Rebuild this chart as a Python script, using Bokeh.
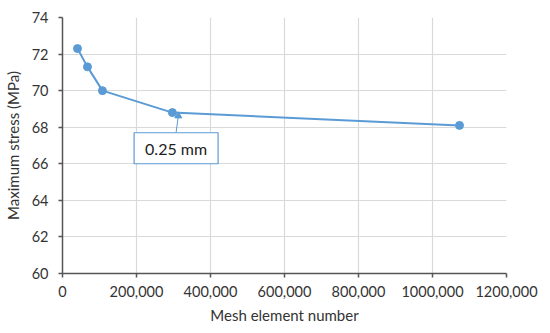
from bokeh.plotting import figure
from bokeh.models import FixedTicker, Range1d
from bokeh.core.properties import value
from bokeh.embed import file_html
from bokeh.resources import INLINE

# Data
mesh_elements = [40500, 67500, 108000, 297000, 1073000]
max_stress = [72.3, 71.3, 70.0, 68.8, 68.1]

x_ticks = [0, 200000, 400000, 600000, 800000, 1000000, 1200000]
x_tick_labels = ["0", "200,000", "400,000", "600,000", "800,000", "1000,000", "1200,000"]
y_ticks = [60, 62, 64, 66, 68, 70, 72, 74]

# Callout annotation ("0.25 mm")
callout_text = ["0.25 mm"]
callout_arrow_x = [313000]
callout_arrow_y = [68.62]
callout_box_x = [307000]
callout_box_y = [66.85]
callout_box_top_y = [67.7]

BLUE = "#5B9BD5"
FONT = "Lato"

p = figure(width=543, height=326, output_backend="svg", toolbar_location=None,
           x_range=Range1d(0, 1200000), y_range=Range1d(60, 74),
           min_border_left=54, min_border_right=37, min_border_top=17, min_border_bottom=52)
p.outline_line_color = None
p.background_fill_color = "white"

for ax in (p.xaxis[0], p.yaxis[0]):
    ax.axis_line_color = "#555555"
    ax.axis_line_width = 1.5
    ax.major_tick_line_color = "#555555"
    ax.major_tick_line_width = 1.5
    ax.major_tick_out = 4
    ax.major_tick_in = 0
    ax.minor_tick_line_color = None
    ax.major_label_text_font = FONT
    ax.major_label_text_font_size = "14.5px"
    ax.major_label_text_color = "#333333"
    ax.axis_label_text_font = FONT
    ax.axis_label_text_font_size = "15px"
    ax.axis_label_text_font_style = "normal"
    ax.axis_label_text_color = "#333333"

p.xaxis.ticker = FixedTicker(ticks=x_ticks)
p.xaxis.major_label_overrides = {t: l for t, l in zip(x_ticks, x_tick_labels)}
p.xaxis.axis_label = "Mesh element number"
p.xaxis.major_label_standoff = 8
p.xaxis.axis_label_standoff = 6

p.yaxis.ticker = FixedTicker(ticks=y_ticks)
p.yaxis.axis_label = "Maximum stress (MPa)"
p.yaxis.major_label_standoff = 10
p.yaxis.axis_label_standoff = 7

p.xgrid.grid_line_color = "#D9D9D9"
p.ygrid.grid_line_color = "#D9D9D9"
p.xgrid.grid_line_width = 1.2
p.ygrid.grid_line_width = 1.2

p.line(mesh_elements, max_stress, line_color=BLUE, line_width=2)
p.scatter(mesh_elements, max_stress, marker="circle", size=8, fill_color=BLUE, line_color=BLUE)

# Callout
p.segment(x0=callout_box_x, y0=callout_box_top_y, x1=callout_arrow_x, y1=callout_arrow_y,
          line_color=BLUE, line_width=1)
p.scatter(callout_arrow_x, callout_arrow_y, marker="triangle", size=7, fill_color=BLUE, line_color=BLUE)
p.rect(x=callout_box_x, y=callout_box_y, width=84, height=31, width_units="screen",
       height_units="screen", fill_color="white", line_color=BLUE, line_width=1.2)
p.text(x=callout_box_x, y=callout_box_y, text=callout_text, text_font=value(FONT),
       text_font_size="16px", text_align="center", text_baseline="middle", text_color="#222222")

open("out.html", "w").write(file_html(p, INLINE))
